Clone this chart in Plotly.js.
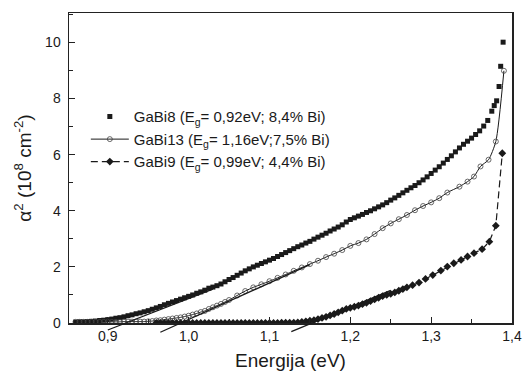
<!DOCTYPE html>
<html><head><meta charset="utf-8">
<script src="https://cdn.plot.ly/plotly-3.0.1.min.js"></script>
<style>html,body{margin:0;padding:0;background:#fff}#chart{width:523px;height:374px}</style>
</head><body><div id="chart"></div>
<script>
// GaBi8 (squares)
const e8 = [0.860,0.865,0.870,0.875,0.880,0.885,0.890,0.895,0.900,0.905,0.910,0.915,0.920,0.925,0.930,0.935,0.940,0.945,0.950,0.955,0.960,0.965,0.970,0.975,0.980,0.985,0.990,0.995,1.000,1.005,1.010,1.015,1.020,1.025,1.030,1.035,1.040,1.045,1.050,1.055,1.060,1.065,1.070,1.075,1.080,1.085,1.090,1.095,1.100,1.105,1.110,1.115,1.120,1.125,1.130,1.135,1.140,1.145,1.150,1.155,1.160,1.165,1.170,1.175,1.180,1.185,1.190,1.195,1.200,1.205,1.210,1.215,1.220,1.225,1.230,1.235,1.240,1.245,1.250,1.255,1.260,1.265,1.270,1.275,1.280,1.285,1.290,1.295,1.300,1.305,1.310,1.315,1.320,1.325,1.330,1.335,1.340,1.345,1.350,1.355,1.360,1.365,1.370,1.375,1.378,1.381,1.384,1.386,1.389];
const a8 = [0.03,0.04,0.04,0.05,0.06,0.07,0.09,0.10,0.12,0.14,0.17,0.19,0.22,0.26,0.29,0.33,0.36,0.40,0.44,0.49,0.54,0.59,0.65,0.70,0.75,0.80,0.85,0.90,0.95,1.00,1.06,1.11,1.17,1.24,1.28,1.33,1.39,1.47,1.55,1.62,1.70,1.78,1.86,1.93,2.00,2.06,2.12,2.18,2.24,2.30,2.37,2.44,2.51,2.58,2.65,2.72,2.78,2.85,2.91,2.99,3.06,3.13,3.20,3.28,3.35,3.42,3.50,3.60,3.69,3.75,3.81,3.87,3.94,4.00,4.07,4.14,4.21,4.29,4.38,4.46,4.55,4.64,4.73,4.82,4.90,5.00,5.10,5.21,5.33,5.45,5.57,5.70,5.83,5.96,6.10,6.24,6.37,6.48,6.59,6.72,6.85,7.02,7.22,7.55,7.75,7.92,8.43,9.15,10.01];

// GaBi13 (open circles)
const e13 = [0.860,0.865,0.870,0.875,0.880,0.885,0.890,0.895,0.900,0.905,0.910,0.915,0.920,0.925,0.930,0.935,0.940,0.945,0.950,0.955,0.960,0.965,0.970,0.975,0.980,0.985,0.990,0.995,1.000,1.005,1.010,1.015,1.020,1.025,1.030,1.035,1.040,1.045,1.050,1.06,1.07,1.08,1.09,1.10,1.11,1.12,1.13,1.14,1.15,1.16,1.17,1.18,1.19,1.20,1.21,1.22,1.23,1.24,1.25,1.26,1.27,1.28,1.29,1.30,1.31,1.32,1.335,1.345,1.353,1.361,1.371,1.380,1.390];
const a13 = [0.04,0.04,0.04,0.04,0.04,0.04,0.04,0.04,0.04,0.04,0.04,0.04,0.05,0.05,0.05,0.05,0.05,0.05,0.06,0.07,0.09,0.10,0.12,0.14,0.16,0.18,0.20,0.23,0.26,0.30,0.34,0.39,0.43,0.50,0.56,0.62,0.68,0.75,0.82,0.98,1.14,1.27,1.38,1.49,1.61,1.73,1.86,1.98,2.10,2.22,2.35,2.47,2.60,2.75,2.85,2.98,3.17,3.38,3.55,3.70,3.85,4.02,4.17,4.30,4.45,4.65,4.86,5.04,5.22,5.58,5.82,6.47,8.99];

// GaBi9 (filled diamonds)
const e9 = [0.960,0.965,0.970,0.975,0.980,0.985,0.990,0.995,1.000,1.005,1.010,1.015,1.020,1.025,1.030,1.035,1.040,1.045,1.050,1.055,1.060,1.065,1.070,1.075,1.080,1.085,1.090,1.095,1.100,1.105,1.110,1.115,1.120,1.125,1.130,1.135,1.140,1.145,1.150,1.155,1.160,1.165,1.170,1.175,1.180,1.185,1.190,1.195,1.200,1.205,1.210,1.215,1.220,1.225,1.230,1.235,1.240,1.245,1.250,1.255,1.260,1.265,1.270,1.277,1.285,1.293,1.302,1.312,1.320,1.328,1.337,1.345,1.353,1.363,1.372,1.380,1.388];
const a9 = [0,0,0,0,0,0,0,0,0,0,0,0,0,0,0,0,0,0,0,0,0,0,0,0,0,0,0,0,0,0,0,0.01,0.01,0.01,0.01,0.02,0.04,0.06,0.08,0.10,0.14,0.18,0.22,0.27,0.32,0.38,0.44,0.50,0.54,0.58,0.62,0.67,0.72,0.78,0.84,0.90,0.96,1.00,1.04,1.09,1.15,1.21,1.27,1.35,1.44,1.57,1.71,1.87,2.01,2.13,2.25,2.37,2.49,2.63,2.90,3.47,6.05];

// Linear extrapolation segments (end points)
const fit8E = [0.900, 1.030], fit8A = [-0.25, 1.21];
const fit13E = [0.965, 1.150], fit13A = [-0.33, 2.08];
const fit9E = [1.127, 1.250], fit9A = [-0.31, 1.16];

const names = [
  'GaBi8 (E<sub>g</sub>= 0,92eV; 8,4% Bi)',
  'GaBi13 (E<sub>g</sub>= 1,16eV;7,5% Bi)',
  'GaBi9 (E<sub>g</sub>= 0,99eV; 4,4% Bi)'
];
const xTickVals = [0.9, 1.0, 1.1, 1.2, 1.3, 1.4];
const yTickVals = [0, 2, 4, 6, 8, 10];

const XR = [0.852, 1.4];
const YR = [0, 11.05];
const T = 13, B = 41, H = 374;
const plotH = H - T - B;
const extraPx = 10;
const d0 = extraPx / plotH;
const y2min = -(YR[1] - YR[0]) / (plotH - extraPx) * extraPx;

const ink = '#1a1a1a';
const traces = [
  {x: e8, y: a8, name: names[0], type: 'scatter', mode: 'markers', xaxis: 'x', yaxis: 'y',
   marker: {symbol: 'square', size: 5, color: ink}},
  {x: e13, y: a13, name: names[1], type: 'scatter', mode: 'lines+markers', xaxis: 'x', yaxis: 'y',
   line: {color: ink, width: 1, shape: 'spline', smoothing: 0.6},
   marker: {symbol: 'circle-open', size: 5, color: '#444', line: {width: 0.8}}},
  {x: e9, y: a9, name: names[2], type: 'scatter', mode: 'lines+markers', xaxis: 'x', yaxis: 'y',
   line: {color: ink, width: 1.2, dash: '7px,4px'},
   marker: {symbol: 'diamond', size: 6, color: ink}},
  {x: fit8E, y: fit8A, type: 'scatter', mode: 'lines', xaxis: 'x2', yaxis: 'y2', showlegend: false,
   line: {color: ink, width: 1.3}},
  {x: fit13E, y: fit13A, type: 'scatter', mode: 'lines', xaxis: 'x2', yaxis: 'y2', showlegend: false,
   line: {color: ink, width: 1.3}},
  {x: fit9E, y: fit9A, type: 'scatter', mode: 'lines', xaxis: 'x2', yaxis: 'y2', showlegend: false,
   line: {color: ink, width: 1.3}}
];

const font = 'Liberation Sans, Arial, sans-serif';
const layout = {
  width: 523, height: 374,
  margin: {l: 69, r: 11, t: T, b: B, pad: 0},
  paper_bgcolor: '#fff', plot_bgcolor: 'rgba(0,0,0,0)',
  separators: ', ',
  font: {family: font, color: ink, size: 14},
  showlegend: true,
  legend: {x: 0.038, y: 0.727, xanchor: 'left', yanchor: 'top', bgcolor: 'rgba(0,0,0,0)',
           itemwidth: 38, font: {size: 15, family: font, color: ink}, tracegroupgap: 0},
  xaxis: {range: XR, domain: [0, 1], anchor: 'y', showgrid: false, zeroline: false,
          showline: true, linecolor: '#222', linewidth: 1.5, mirror: true,
          ticks: 'inside', ticklen: 6, tickwidth: 1.2, tickcolor: '#222',
          tickvals: xTickVals, tickformat: '.1f',
          minor: {ticks: 'inside', ticklen: 4, tickwidth: 1, tickcolor: '#222', dtick: 0.05, tick0: 0.85, showgrid: false},
          tickfont: {size: 14},
          title: {text: 'Energija (eV)', font: {size: 19}, standoff: 10}},
  yaxis: {range: YR, domain: [d0, 1], anchor: 'x', showgrid: false, zeroline: false,
          showline: true, linecolor: '#222', linewidth: 1.5, mirror: true,
          ticks: 'inside', ticklen: 6, tickwidth: 1.2, tickcolor: '#222',
          tickvals: yTickVals,
          minor: {ticks: 'inside', ticklen: 4, tickwidth: 1, tickcolor: '#222', dtick: 1, tick0: 1, showgrid: false},
          tickfont: {size: 14}, ticklabelstandoff: 4,
          title: {text: 'α<sup>2</sup> (10<sup>8</sup> cm<sup>-2</sup>)', font: {size: 19}, standoff: 8}},
  xaxis2: {range: XR, domain: [0, 1], anchor: 'y2', visible: false, showgrid: false, zeroline: false},
  yaxis2: {range: [y2min, YR[1]], domain: [0, 1], anchor: 'x2', visible: false, showgrid: false, zeroline: false}
};

Plotly.newPlot('chart', traces, layout, {displayModeBar: false, staticPlot: true});
</script></body></html>
